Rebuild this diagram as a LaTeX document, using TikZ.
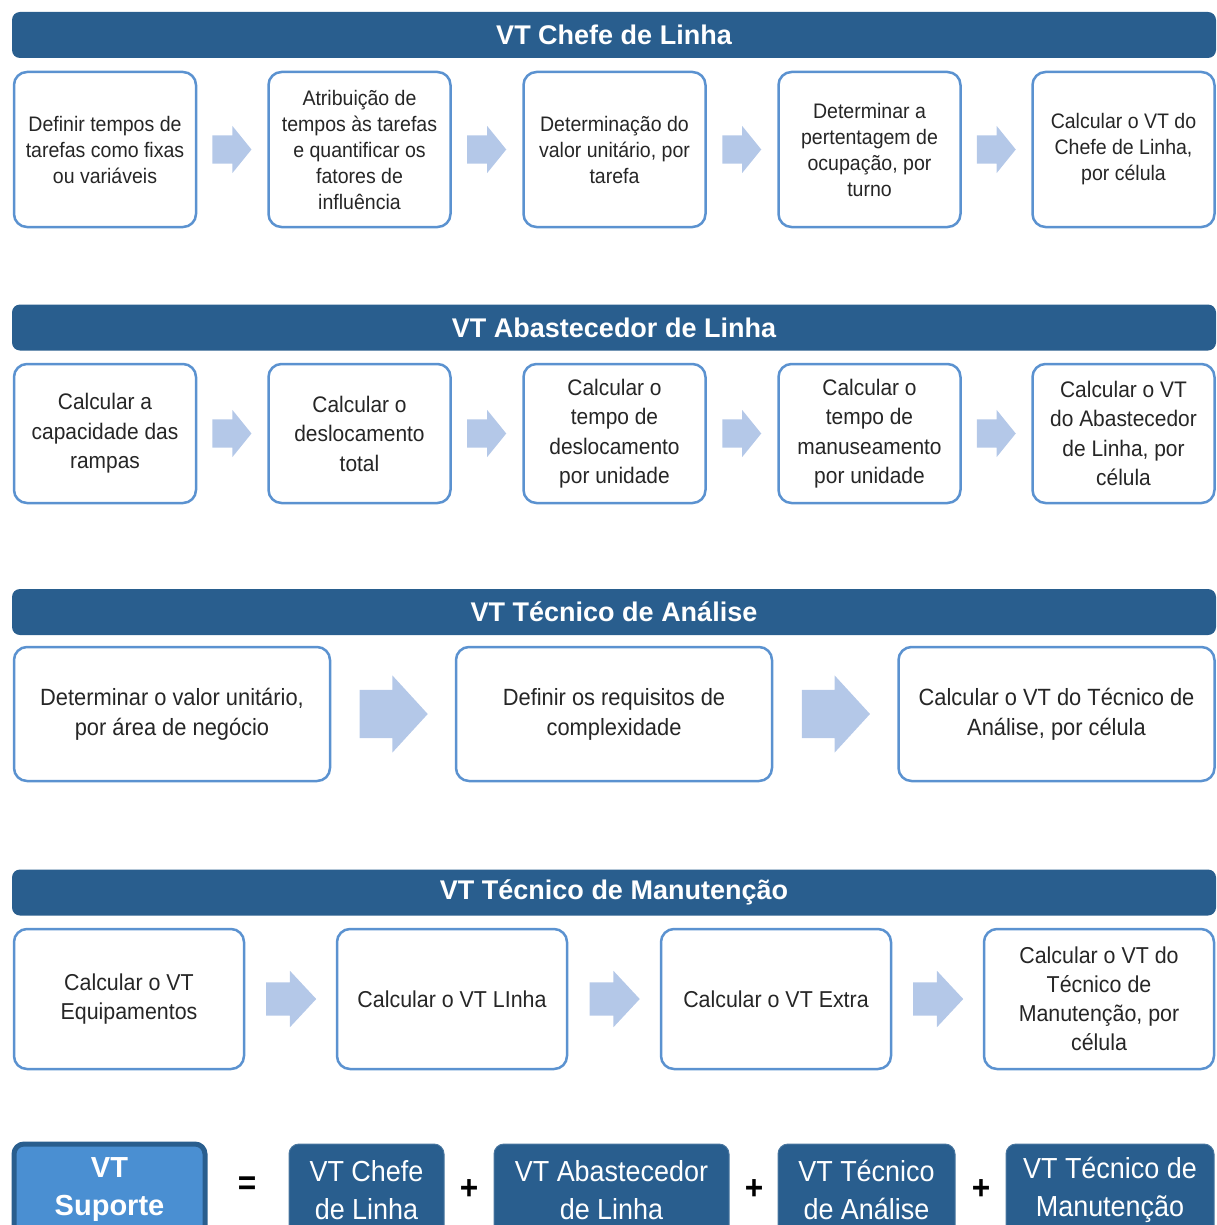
\documentclass[tikz,border=0pt]{standalone}
\usepackage{fontspec}
\setmainfont[FakeStretch=0.93]{Liberation Sans}
\newfontfamily\titulofont{Liberation Sans}
\usepackage{xcolor}
\usetikzlibrary{shapes.arrows}
\usetikzlibrary{calc}
\definecolor{azulescuro}{RGB}{41,94,142}
\definecolor{azulborda}{RGB}{91,146,208}
\definecolor{azulseta}{RGB}{180,200,232}
\definecolor{azulclaro}{RGB}{74,143,210}
\definecolor{textocinza}{RGB}{38,38,38}
\tikzset{
    cabecalho/.style={
        fill=azulescuro, text=white, rounded corners=8pt, inner sep=0pt,
        minimum width=1204pt, minimum height=46pt,
        font=\titulofont\bfseries\fontsize{27}{30}\selectfont,
    },
    tarefa/.style={
        draw=azulborda, line width=2.5pt, fill=white, text=textocinza,
        rounded corners=13pt, align=center, inner sep=0pt,
    },
    seta/.style={
        single arrow, fill=azulseta, inner xsep=0pt, anchor=tip,
    },
    parcela/.style={
        fill=azulescuro, draw=azulescuro!85!white, line width=1pt, text=white,
        rounded corners=10pt, align=center, inner sep=0pt, minimum height=92pt,
        font=\fontsize{29}{38}\selectfont,
    },
    sinal/.style={font=\bfseries\fontsize{34}{34}\selectfont, text=black},
}

\begin{document}
\begin{tikzpicture}[x=1pt,y=-1pt]
    \useasboundingbox (0,0) rectangle (1216,1225);
    \clip (0,0) rectangle (1216,1225);

    % chefe de linha
    \node[cabecalho] (hChefe) at (614,35) {VT Chefe de Linha};
    \begin{scope}[every node/.append style={minimum width=182pt, minimum height=155pt, font=\fontsize{21}{26}\selectfont}]
    \node[tarefa] (c1) at (105,149.5) {Definir tempos de\\tarefas como fixas\\ou variáveis};
    \node[tarefa] (c2) at (359.5,149.5) {Atribuição de\\tempos às tarefas\\e quantificar os\\fatores de\\influência};
    \node[tarefa] (c3) at (614.5,149.5) {Determinação do\\valor unitário, por\\tarefa};
    \node[tarefa] (c4) at (869.5,149.5) {Determinar a\\pertentagem de\\ocupação, por\\turno};
    \node[tarefa] (c5) at (1123.5,149.5) {Calcular o VT do\\Chefe de Linha,\\por célula};
    \end{scope}
    \foreach \i/\j in {1/2,2/3,3/4,4/5}
        \node[seta, minimum height=39pt, inner ysep=14pt, single arrow head extend=9.5pt, single arrow tip angle=102] (sc\i) at ($(c\i.east)!0.5!(c\j.west)+(19.5,0)$) {};

    % abastecedor de linha
    \node[cabecalho] (hAbast) at (614,327.5) {VT Abastecedor de Linha};
    \begin{scope}[every node/.append style={minimum width=182pt, minimum height=139pt, font=\fontsize{22.5}{29.5}\selectfont}]
    \node[tarefa] (a1) at (105,433.5) {Calcular a\\capacidade das\\rampas};
    \node[tarefa] (a2) at (359.5,433.5) {Calcular o\\deslocamento\\total};
    \node[tarefa] (a3) at (614.5,433.5) {Calcular o\\tempo de\\deslocamento\\por unidade};
    \node[tarefa] (a4) at (869.5,433.5) {Calcular o\\tempo de\\manuseamento\\por unidade};
    \node[tarefa] (a5) at (1123.5,433.5) {Calcular o VT\\do Abastecedor\\de Linha, por\\célula};
    \end{scope}
    \foreach \i/\j in {1/2,2/3,3/4,4/5}
        \node[seta, minimum height=39pt, inner ysep=14pt, single arrow head extend=9.5pt, single arrow tip angle=102] (sa\i) at ($(a\i.east)!0.5!(a\j.west)+(19.5,0)$) {};

    % tecnico de analise
    \node[cabecalho] (hAnalise) at (614,612) {VT Técnico de Análise};
    \begin{scope}[every node/.append style={minimum width=316pt, minimum height=134pt, font=\fontsize{23.5}{30}\selectfont}]
    \node[tarefa] (t1) at (172,714) {Determinar o valor unitário,\\por área de negócio};
    \node[tarefa] (t2) at (614,714) {Definir os requisitos de\\complexidade};
    \node[tarefa] (t3) at (1056.5,714) {Calcular o VT do Técnico de\\Análise, por célula};
    \end{scope}
    \foreach \i/\j in {1/2,2/3}
        \node[seta, minimum height=68pt, inner ysep=24pt, single arrow head extend=14.5pt, single arrow tip angle=95] (st\i) at ($(t\i.east)!0.5!(t\j.west)+(35,0)$) {};

    % tecnico de manutencao
    \node[cabecalho] (hManut) at (614,892.5) {VT Técnico de Manutenção};
    \begin{scope}[every node/.append style={minimum width=230pt, minimum height=140pt, font=\fontsize{23}{29}\selectfont}]
    \node[tarefa] (m1) at (129,999) {Calcular o VT\\Equipamentos};
    \node[tarefa] (m2) at (452,999) {Calcular o VT LInha};
    \node[tarefa] (m3) at (776,999) {Calcular o VT Extra};
    \node[tarefa] (m4) at (1099,999) {Calcular o VT do\\Técnico de\\Manutenção, por\\célula};
    \end{scope}
    \foreach \i/\j in {1/2,2/3,3/4}
        \node[seta, minimum height=50pt, inner ysep=16.5pt, single arrow head extend=11.5pt, single arrow tip angle=94] (sm\i) at ($(m\i.east)!0.5!(m\j.west)+(26,0)$) {};

    % soma final
    \node[parcela, fill=azulclaro, draw=azulescuro, line width=5pt, minimum width=191pt,
          font=\titulofont\bfseries\fontsize{29}{38}\selectfont] (suporte) at (109.5,1190) {VT\\Suporte};
    \node[sinal] (igual) at (247,1186) {=};
    \node[parcela, minimum width=155pt] (pChefe) at (366.5,1190) {VT Chefe\\de Linha};
    \node[sinal] (mais1) at (469,1190) {+};
    \node[parcela, minimum width=235pt] (pAbast) at (611.5,1190) {VT Abastecedor\\de Linha};
    \node[sinal] (mais2) at (754,1190) {+};
    \node[parcela, minimum width=177pt] (pAnalise) at (866.5,1190) {VT Técnico\\de Análise};
    \node[sinal] (mais3) at (981,1190) {+};
    \node[parcela, minimum width=208pt] (pManut) at (1110,1190) {VT Técnico de\\Manutenção};
\end{tikzpicture}
\end{document}
